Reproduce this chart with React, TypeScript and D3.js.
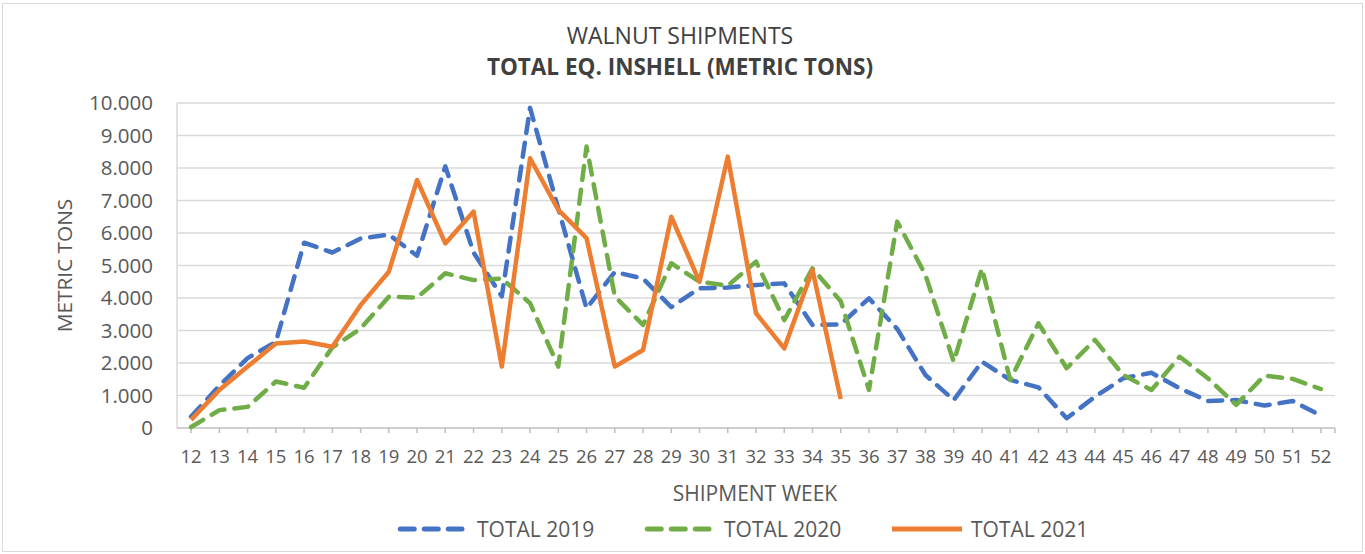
import React from 'react';
import * as d3 from 'd3';

// shipment weeks on the x axis
const weeks = [
  '12', '13', '14', '15', '16', '17', '18', '19', '20', '21', '22', '23', '24', '25',
  '26', '27', '28', '29', '30', '31', '32', '33', '34', '35', '36', '37', '38', '39',
  '40', '41', '42', '43', '44', '45', '46', '47', '48', '49', '50', '51', '52',
];

// metric tons per week
const total2019 = [
  350, 1300, 2150, 2650, 5700, 5400, 5830, 5950, 5300, 8050, 5400, 4050, 9850, 6750,
  3680, 4800, 4600, 3720, 4300, 4320, 4400, 4450, 3170, 3190, 3990, 3050, 1630, 860,
  2040, 1480, 1250, 300, 960, 1530, 1700, 1220, 830, 860, 690, 830, 380,
];
const total2020 = [
  30, 550, 650, 1430, 1240, 2480, 3060, 4040, 4010, 4760, 4550, 4600, 3840, 1890,
  8660, 4050, 3170, 5070, 4500, 4380, 5120, 3320, 4910, 3900, 1170, 6350, 4710, 2040,
  4910, 1480, 3220, 1840, 2710, 1630, 1170, 2190, 1530, 710, 1610, 1510, 1200,
];
const total2021 = [
  250, 1170, 1890, 2600, 2660, 2500, 3780, 4810, 7630, 5680, 6660, 1890, 8300, 6710,
  5840, 1890, 2400, 6500, 4500, 8350, 3530, 2450, 4860, 890,
];

const yTicks = [0, 1000, 2000, 3000, 4000, 5000, 6000, 7000, 8000, 9000, 10000];

const series = [
  { name: 'TOTAL 2019', values: total2019, color: '#4472C4', dashed: true },
  { name: 'TOTAL 2020', values: total2020, color: '#70AD47', dashed: true },
  { name: 'TOTAL 2021', values: total2021, color: '#ED7D31', dashed: false },
];

const W = 1365;
const H = 554;
const margin = { top: 103, right: 30, bottom: 126, left: 177 };
const FONT = "'Open Sans', 'Liberation Sans', sans-serif";
const DASH = '14 10';

const fmt = d3.formatLocale({ decimal: ',', thousands: '.', grouping: [3], currency: ['', ''] }).format(',');

export default function App() {
  const innerW = W - margin.left - margin.right;
  const innerH = H - margin.top - margin.bottom;

  const x = d3.scaleBand<string>().domain(weeks).range([0, innerW]).padding(0);
  const y = d3.scaleLinear().domain([0, 10000]).range([innerH, 0]);
  const cx = (w: string) => (x(w) || 0) + x.bandwidth() / 2;

  const line = d3.line<number>()
    .x((_, i) => cx(weeks[i]))
    .y(d => y(d));

  // legend swatch starts / text starts
  const legendItems = [
    { ...series[0], lx: 398, tx: 477 },
    { ...series[1], lx: 645, tx: 724 },
    { ...series[2], lx: 892, tx: 971 },
  ];
  const legendY = 529;

  return (
    <div style={{ position: 'absolute', left: 0, top: 0 }}>
      <svg width={W} height={H} style={{ display: 'block', fontFamily: FONT }}>
        <rect x={0} y={0} width={W} height={H} fill="#fff" />
        <rect x={2.5} y={3.5} width={W - 5} height={H - 6} fill="none" stroke="#d9d9d9" strokeWidth={1} />

        <text x={680} y={44} textAnchor="middle" fontSize={23} fill="#404040">WALNUT SHIPMENTS</text>
        <text x={680} y={74.5} textAnchor="middle" fontSize={22.5} fontWeight="bold" fill="#404040">
          TOTAL EQ. INSHELL (METRIC TONS)
        </text>

        <g transform={`translate(${margin.left},${margin.top})`}>
          {yTicks.map(t => (
            <g key={t}>
              {t > 0 && (
                <line x1={0} x2={innerW} y1={y(t)} y2={y(t)} stroke="#d9d9d9" strokeWidth={1.5} />
              )}
              <text x={-24} y={y(t)} dy="0.36em" textAnchor="end" fontSize={20.5} fill="#595959">
                {fmt(t)}
              </text>
            </g>
          ))}

          <line x1={0} x2={0} y1={0} y2={innerH} stroke="#d9d9d9" strokeWidth={1.5} />
          <line x1={0} x2={innerW} y1={innerH} y2={innerH} stroke="#bfbfbf" strokeWidth={1.5} />
          {weeks.map(w => (
            <g key={w}>
              <line x1={cx(w)} x2={cx(w)} y1={innerH} y2={innerH + 5} stroke="#bfbfbf" strokeWidth={1.5} />
              <text x={cx(w)} y={innerH + 35} textAnchor="middle" fontSize={18.5} fill="#595959">{w}</text>
            </g>
          ))}
          <line x1={innerW} x2={innerW} y1={innerH} y2={innerH + 5} stroke="#bfbfbf" strokeWidth={1.5} />

          {series.map(s => (
            <path
              key={s.name}
              d={line(s.values) || ''}
              fill="none"
              stroke={s.color}
              strokeWidth={4.5}
              strokeDasharray={s.dashed ? DASH : undefined}
              strokeLinecap={s.dashed ? 'round' : 'butt'}
              strokeLinejoin="round"
            />
          ))}
        </g>

        <text x={755} y={501} textAnchor="middle" fontSize={21} fill="#595959">SHIPMENT WEEK</text>
        <text
          transform={`translate(72,${margin.top + innerH / 2}) rotate(-90)`}
          textAnchor="middle"
          fontSize={20.8}
          fill="#595959"
        >
          METRIC TONS
        </text>

        {legendItems.map(s => (
          <g key={s.name}>
            <line
              x1={s.lx + (s.dashed ? 2.25 : 0)}
              x2={s.dashed ? s.lx + 64 : s.lx + 70}
              y1={legendY}
              y2={legendY}
              stroke={s.color}
              strokeWidth={5}
              strokeDasharray={s.dashed ? DASH : undefined}
              strokeLinecap={s.dashed ? 'round' : 'butt'}
            />
            <text x={s.tx} y={legendY} dy="0.36em" fontSize={21} fill="#595959">{s.name}</text>
          </g>
        ))}
      </svg>
    </div>
  );
}
